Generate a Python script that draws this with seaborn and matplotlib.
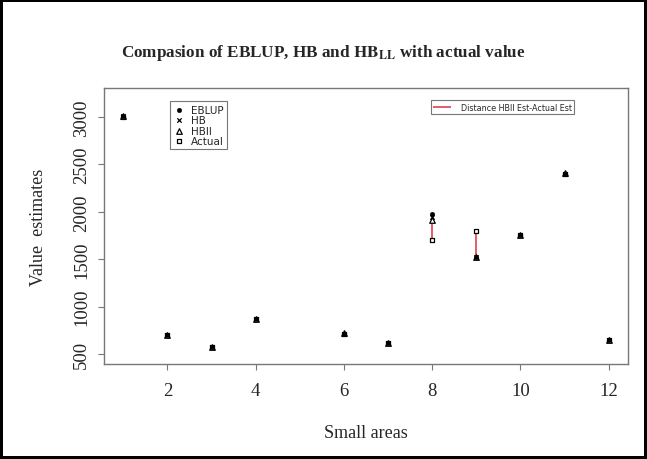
import numpy as np
import pandas as pd
import seaborn as sns
import matplotlib
matplotlib.use("Agg")
from matplotlib import pyplot as plt

areas = [1, 2, 3, 4, 6, 7, 8, 9, 10, 11, 12]
eblup = [3010, 700, 575, 870, 715, 615, 1975, 1520, 1755, 2400, 650]
hb = [3010, 700, 575, 870, 715, 615, 1950, 1520, 1755, 2400, 650]
hbll = [3015, 700, 578, 872, 718, 618, 1910, 1525, 1758, 2405, 652]
actual = [3005, 695, 572, 868, 712, 612, 1700, 1795, 1750, 2395, 648]
dist_areas = [8, 9]

sns.set_style("white")
plt.rcParams["font.family"] = ["Liberation Serif", "DejaVu Serif"]
plt.rcParams["mathtext.fontset"] = "stix"

df = pd.DataFrame({"area": areas, "EBLUP": eblup, "HB": hb, "HBll": hbll, "Actual": actual})

fig = plt.figure(figsize=(6.47, 4.6), dpi=100, linewidth=3, edgecolor="black")
ax = fig.add_axes([0.1607, 0.2065, 0.81, 0.6])

# red distance segments between HBll and actual
d = df[df["area"].isin(dist_areas)]
ax.vlines(d["area"], d["HBll"], d["Actual"], color="#e04050", lw=1.2,
          label="Distance HBll Est-Actual Est", zorder=1)

sns.scatterplot(data=df, x="area", y="Actual", marker="s", s=12, facecolor="white",
                edgecolor="black", linewidth=0.9, ax=ax, label="Actual", zorder=2)
sns.scatterplot(data=df, x="area", y="HBll", marker="^", s=16, facecolor="white",
                edgecolor="black", linewidth=0.9, ax=ax, label="HBll", zorder=3)
sns.scatterplot(data=df, x="area", y="HB", marker="x", s=10, color="black",
                linewidth=0.9, ax=ax, label="HB", zorder=4)
sns.scatterplot(data=df, x="area", y="EBLUP", marker="o", s=11, color="black",
                edgecolor="black", ax=ax, label="EBLUP", zorder=5)

ax.set_xlim(0.56, 12.44)
ax.set_ylim(394, 3306)
ax.set_xticks([2, 4, 6, 8, 10, 12])
ax.set_yticks([500, 1000, 1500, 2000, 2500, 3000])
ax.tick_params(axis="both", direction="out", length=4, width=0.8, color="#777777",
               labelsize=13.5, bottom=True, left=True)
ax.tick_params(axis="x", pad=9)
ax.tick_params(axis="y", pad=6)
for lab in ax.get_yticklabels():
    lab.set_rotation(90)
    lab.set_va("center")
for sp in ax.spines.values():
    sp.set_color("#777777")
    sp.set_linewidth(1.0)

ax.set_xlabel("Small areas", fontsize=13, labelpad=18)
ax.set_ylabel("Value  estimates", fontsize=13, labelpad=19)
fig.text(0.5, 0.885, r"Compasion of EBLUP, HB and $\mathbf{HB}_{\mathbf{LL}}$ with actual value",
         ha="center", va="center", fontsize=12.3, fontweight="bold")

handles, labels = ax.get_legend_handles_labels()
hmap = dict(zip(labels, handles))
leg1 = ax.legend([hmap[k] for k in ["EBLUP", "HB", "HBll", "Actual"]],
                 ["EBLUP", "HB", "HBll", "Actual"],
                 loc="upper left", bbox_to_anchor=(0.116, 0.97),
                 prop={"family": "DejaVu Sans", "size": 7.5}, frameon=True,
                 fancybox=False, edgecolor="#555555", handlelength=1.2,
                 borderpad=0.3, labelspacing=0.05, handletextpad=0.5)
leg1.get_frame().set_linewidth(0.8)
ax.add_artist(leg1)
leg2 = ax.legend([hmap["Distance HBll Est-Actual Est"]], ["Distance HBll Est-Actual Est"],
                 loc="upper right", bbox_to_anchor=(0.905, 0.97),
                 prop={"family": "DejaVu Sans", "size": 5.8}, frameon=True,
                 fancybox=False, edgecolor="#555555", handlelength=2.2,
                 borderpad=0.3, handletextpad=1.2)
leg2.get_frame().set_linewidth(0.8)

fig.savefig("out.png", dpi=100, edgecolor=fig.get_edgecolor())
